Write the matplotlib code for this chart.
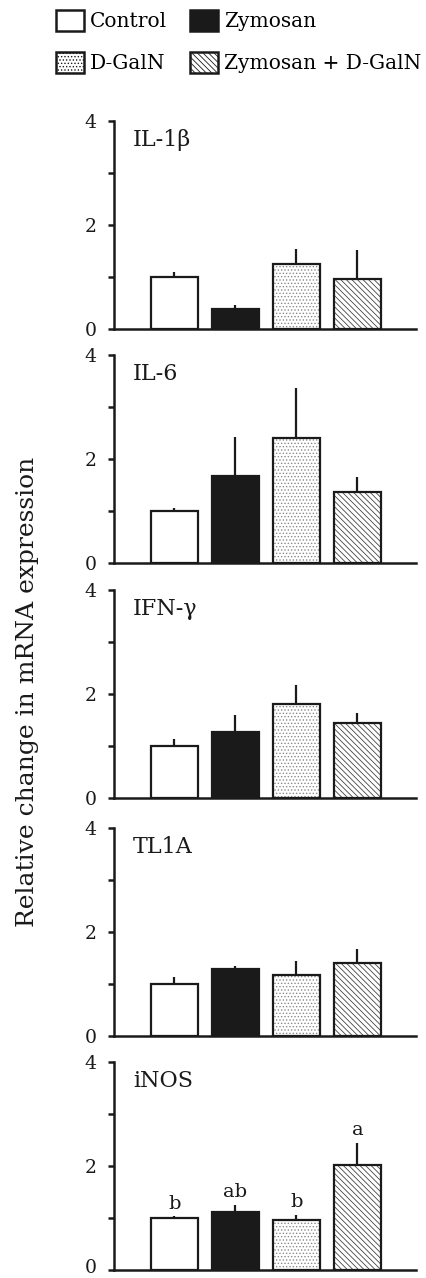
import matplotlib
matplotlib.use("Agg")
import matplotlib.pyplot as plt
from matplotlib.patches import Patch
import matplotlib.transforms as mtransforms
import numpy as np

plt.rcParams['font.family'] = ['DejaVu Serif']
plt.rcParams['hatch.linewidth'] = 0.6

groups = ["Control", "Zymosan", "D-GalN", "Zymosan + D-GalN"]
genes = ["IL-1\u03b2", "IL-6", "IFN-\u03b3", "TL1A", "iNOS"]

il1b = [1.00, 0.38, 1.25, 0.97]
il1b_err = [0.09, 0.08, 0.28, 0.54]
il6 = [1.00, 1.68, 2.41, 1.36]
il6_err = [0.06, 0.74, 0.96, 0.29]
ifng = [1.00, 1.27, 1.80, 1.44]
ifng_err = [0.13, 0.32, 0.38, 0.19]
tl1a = [1.00, 1.29, 1.17, 1.40]
tl1a_err = [0.14, 0.06, 0.28, 0.27]
inos = [1.00, 1.12, 0.96, 2.02]
inos_err = [0.03, 0.13, 0.10, 0.43]
inos_letters = ["b", "ab", "b", "a"]

means = [il1b, il6, ifng, tl1a, inos]
errs = [il1b_err, il6_err, ifng_err, tl1a_err, inos_err]

fills = ["white", "#1a1a1a", "white", "white"]
hatches = [None, None, ".....", "\\\\\\\\\\\\"]
hatch_cols = ["none", "none", "#8a8a8a", "#444444"]

W, H = 426, 1278
fig = plt.figure(figsize=(W / 100, H / 100), dpi=100)

tops = [121, 355, 590, 828, 1062]
ph = 208
left_px, right_px = 114, 416
ink = '#1a1a1a'

x = np.arange(len(groups))
for i, (gene, m, e) in enumerate(zip(genes, means, errs)):
    bottom_px = tops[i] + ph
    ax = fig.add_axes([left_px / W, 1 - bottom_px / H, (right_px - left_px) / W, ph / H])
    ax.errorbar(x, m, yerr=[np.zeros(len(m)), e], fmt='none', ecolor=ink,
                elinewidth=1.6, capsize=0, zorder=1)
    for j in range(len(groups)):
        if hatches[j]:
            ax.bar(x[j], m[j], width=0.78, color='white', edgecolor=hatch_cols[j],
                   hatch=hatches[j], linewidth=0, zorder=2)
            ax.bar(x[j], m[j], width=0.78, color='none', edgecolor=ink,
                   linewidth=1.6, zorder=3)
        else:
            ax.bar(x[j], m[j], width=0.78, color=fills[j], edgecolor=ink,
                   linewidth=1.6, zorder=2)
    ax.set_xlim(-0.99, 3.96)
    ax.set_ylim(0, 4)
    ax.set_yticks([0, 2, 4])
    ax.set_yticks([1, 3], minor=True)
    ax.set_xticks([])
    for s in ['top', 'right']:
        ax.spines[s].set_visible(False)
    for s in ['left', 'bottom']:
        ax.spines[s].set_linewidth(1.8)
        ax.spines[s].set_color(ink)
    ax.tick_params(axis='y', which='both', direction='out', length=4.5, width=1.8,
                   color=ink, labelsize=13.5, pad=8, labelcolor=ink)
    ax.patch.set_alpha(0)
    trans = mtransforms.blended_transform_factory(ax.transAxes, ax.transData)
    ax.text(0.063, 3.63, gene, transform=trans, fontsize=16, va='center', ha='left',
            color=ink)
    if gene == "iNOS":
        for j in range(len(groups)):
            ax.text(x[j], m[j] + e[j] + 0.07, inos_letters[j], ha='center', va='bottom',
                    fontsize=14, color=ink)
        # keep the bottom "0" inside the canvas
        lbl = ax.yaxis.get_major_ticks()[0].label1
        lbl.set_transform(lbl.get_transform() +
                          mtransforms.ScaledTranslation(0, 4 / 100, fig.dpi_scale_trans))

fig.text(28 / W, 1 - 692 / H, "Relative change in mRNA expression", rotation=90,
         ha='center', va='center', fontsize=18, color=ink)

handles = []
for j in range(len(groups)):
    handles.append(Patch(facecolor=fills[j], edgecolor=ink, hatch=hatches[j],
                         linewidth=1.8, label=groups[j]))
order = [0, 2, 1, 3]
fig.legend([handles[k] for k in order], [groups[k] for k in order], ncol=2,
           loc='upper left', bbox_to_anchor=(56 / W, 1 - 10 / H), frameon=False,
           fontsize=14.5, handlelength=1.4, handleheight=1.2, handletextpad=0.3,
           columnspacing=1.1, labelspacing=1.05, borderaxespad=0, borderpad=0)

fig.savefig("out.png", dpi=100, facecolor='white')
